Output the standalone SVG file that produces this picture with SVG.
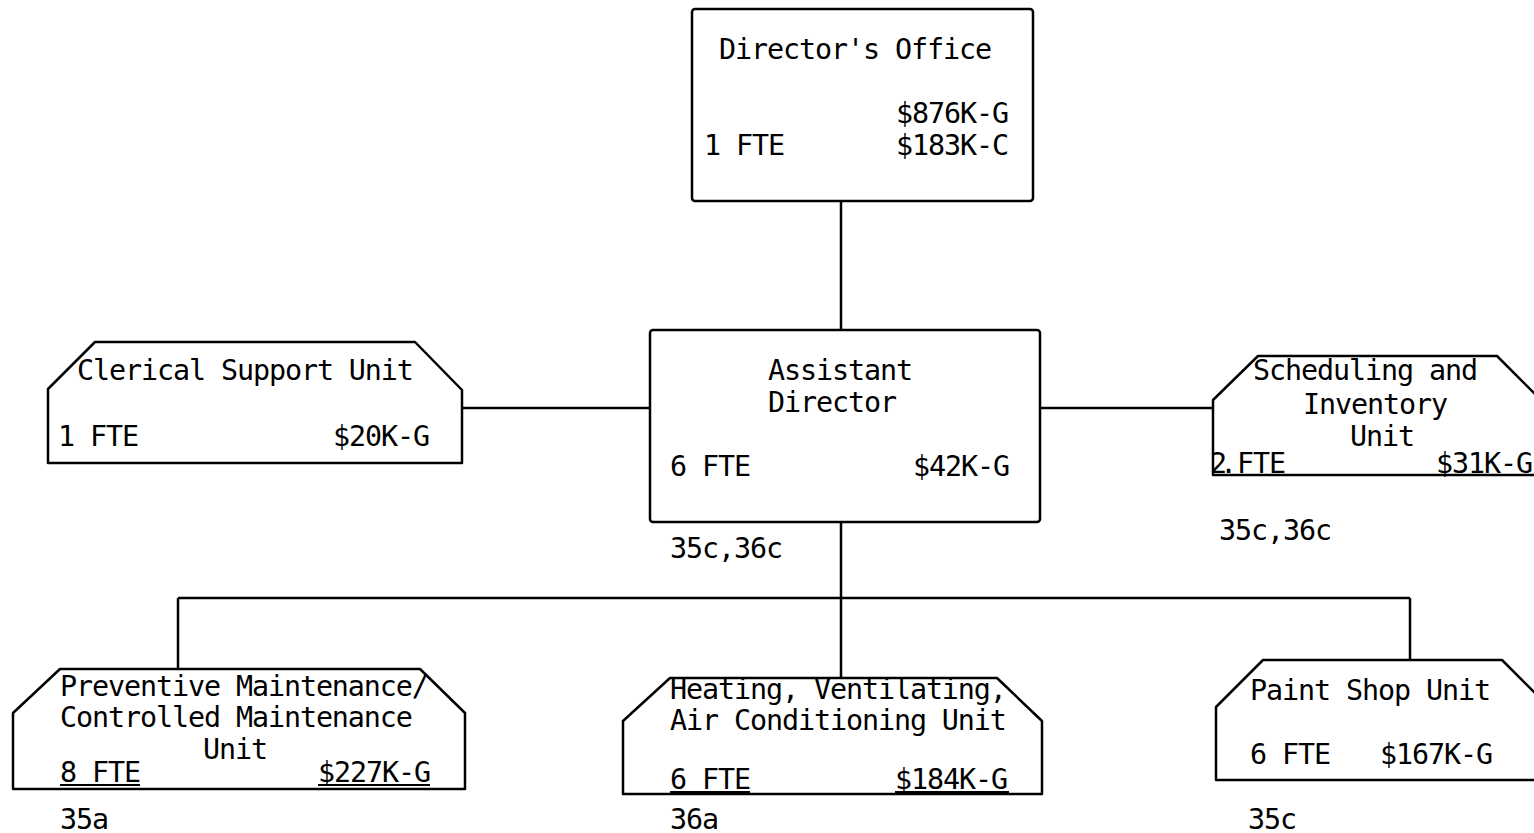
<svg xmlns="http://www.w3.org/2000/svg" width="1534" height="833" viewBox="0 0 1534 833">
<style>
.box{fill:#fff;stroke:#000;stroke-width:2.5;stroke-linejoin:round}
.ln{fill:none;stroke:#000;stroke-width:2.5}
.ul{fill:none;stroke:#000;stroke-width:2}
text{font-family:"DejaVu Sans Mono","Liberation Mono",monospace;font-size:28.4px;letter-spacing:-1.1px;fill:#000}
</style>
<rect width="1534" height="833" fill="#fff"/>
<g id="connectors">
<path class="ln" d="M841,201 V330"/>
<path class="ln" d="M462,408 H650"/>
<path class="ln" d="M1040,408 H1213"/>
<path class="ln" d="M841,522 V678"/>
<path class="ln" d="M178,598 H1410"/>
<path class="ln" d="M178,598 V669"/>
<path class="ln" d="M1410,598 V660"/>
</g>
<g id="directors-office">
<rect class="box" x="692" y="9" width="341" height="192" rx="3"/>
<text x="719" y="59">Director's Office</text>
<text x="896" y="123">$876K-G</text>
<text x="704" y="155">1 FTE</text>
<text x="896" y="155">$183K-C</text>
</g>
<g id="assistant-director">
<rect class="box" x="650" y="330" width="390" height="192" rx="3"/>
<text x="768" y="380">Assistant</text>
<text x="768" y="412">Director</text>
<text x="670" y="476">6 FTE</text>
<text x="913" y="476">$42K-G</text>
<text x="670" y="558">35c,36c</text>
</g>
<g id="clerical-support">
<path class="box" d="M95,342 L415,342 L462,390 L462,463 L48,463 L48,389 Z"/>
<text x="77" y="380">Clerical Support Unit</text>
<text x="58" y="446">1 FTE</text>
<text x="333" y="446">$20K-G</text>
</g>
<g id="scheduling-inventory">
<path class="box" d="M1258,356 L1497,356 L1548,407 L1548,475 L1213,475 L1213,400 Z"/>
<text x="1253" y="380">Scheduling and</text>
<text x="1303" y="414">Inventory</text>
<text x="1350" y="446">Unit</text>
<text x="1210 1220 1230 1237 1253 1269" y="473">2. FTE</text>
<text x="1436" y="473">$31K-G</text>
<text x="1219" y="540">35c,36c</text>
</g>
<g id="preventive-maintenance">
<path class="box" d="M60,669 L420,669 L465,713 L465,789 L13,789 L13,713 Z"/>
<text x="60" y="696">Preventive Maintenance/</text>
<text x="60" y="727">Controlled Maintenance</text>
<text x="203" y="759">Unit</text>
<text x="60" y="782">8 FTE</text>
<text x="318" y="782">$227K-G</text>
<path class="ul" d="M60,785 H140 M318,785 H430"/>
<text x="60" y="829">35a</text>
</g>
<g id="hvac">
<path class="box" d="M670,678 L997,678 L1042,721 L1042,794 L623,794 L623,721 Z"/>
<text x="670" y="699">Heating, Ventilating,</text>
<text x="670" y="730">Air Conditioning Unit</text>
<text x="670" y="789">6 FTE</text>
<text x="895" y="789">$184K-G</text>
<path class="ul" d="M670,792 H750 M895,792 H1009"/>
<text x="670" y="829">36a</text>
</g>
<g id="paint-shop">
<path class="box" d="M1263,660 L1502,660 L1550,708 L1550,780 L1216,780 L1216,707 Z"/>
<text x="1250" y="700">Paint Shop Unit</text>
<text x="1250" y="764">6 FTE</text>
<text x="1380" y="764">$167K-G</text>
<text x="1248" y="829">35c</text>
</g>
</svg>
